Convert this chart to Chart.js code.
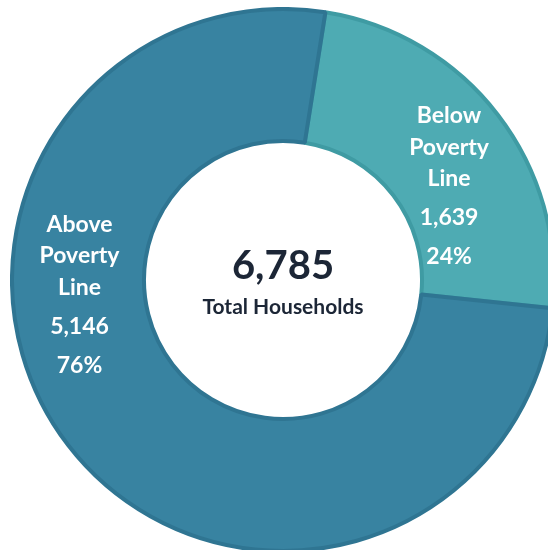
<!DOCTYPE html>
<html>
<head>
<meta charset="utf-8">
<script src="https://cdn.jsdelivr.net/npm/chart.js@4/dist/chart.umd.min.js"></script>
<style>
  html, body { margin: 0; padding: 0; background: #fff; overflow: hidden; }
  #wrap { position: absolute; left: 10px; top: 7px; width: 546px; height: 546px; }
</style>
</head>
<body>
<div id="wrap"><canvas id="chart" width="546" height="546"></canvas></div>
<script>
// ---------- data ----------
const categories = ["Below Poverty Line", "Above Poverty Line"];
const households = [1639, 5146];
const sliceColors = ["#4eabb3", "#3883a1"];
const sliceBorders = ["#3f9ba3", "#2f7592"];
const centerCaption = "Total Households";

// where each slice's label block sits: angle from 12 o'clock (deg), distance from centre (px)
const labelAnchors = [
  { angle: 60.4, dist: 191 },
  { angle: 266, dist: 204 },
];

const FONT = "Lato, 'Open Sans', sans-serif";
const total = households.reduce((a, b) => a + b, 0);
const fmt = (n) => n.toLocaleString("en-US");

// ---------- plugins ----------
const sliceLabels = {
  id: "sliceLabels",
  afterDatasetsDraw(chart) {
    const ctx = chart.ctx;
    const arcs = chart.getDatasetMeta(0).data;
    ctx.save();
    ctx.fillStyle = "#ffffff";
    ctx.textAlign = "center";
    ctx.textBaseline = "middle";
    arcs.forEach((arc, i) => {
      const a = labelAnchors[i];
      const rad = (a.angle * Math.PI) / 180;
      const cx = arc.x + a.dist * Math.sin(rad);
      const cy = arc.y - a.dist * Math.cos(rad);
      const words = categories[i].split(" ");
      const pct = Math.round((households[i] / total) * 100) + "%";
      ctx.font = "bold 23px " + FONT;
      words.forEach((w, k) => ctx.fillText(w, cx, cy - 70 + k * 31.5));
      ctx.fillText(fmt(households[i]), cx, cy + 32);
      ctx.fillText(pct, cx, cy + 71);
    });
    ctx.restore();
  },
};

const centerText = {
  id: "centerText",
  afterDatasetsDraw(chart) {
    const ctx = chart.ctx;
    const arc = chart.getDatasetMeta(0).data[0];
    ctx.save();
    ctx.fillStyle = "#1c2636";
    ctx.textAlign = "center";
    ctx.textBaseline = "middle";
    ctx.font = "bold 40px " + FONT;
    ctx.fillText(fmt(total), arc.x, arc.y - 14);
    ctx.font = "bold 21px " + FONT;
    ctx.fillText(centerCaption, arc.x, arc.y + 27);
    ctx.restore();
  },
};

// ---------- chart ----------
new Chart(document.getElementById("chart").getContext("2d"), {
  type: "doughnut",
  data: {
    labels: categories,
    datasets: [
      {
        data: households,
        backgroundColor: sliceColors,
        borderColor: sliceBorders,
        borderWidth: 4,
      },
    ],
  },
  options: {
    responsive: false,
    animation: false,
    cutout: "51.3%",
    rotation: 9,
    layout: { padding: 0 },
    plugins: {
      legend: { display: false },
      tooltip: { enabled: false },
    },
  },
  plugins: [sliceLabels, centerText],
});
</script>
</body>
</html>
